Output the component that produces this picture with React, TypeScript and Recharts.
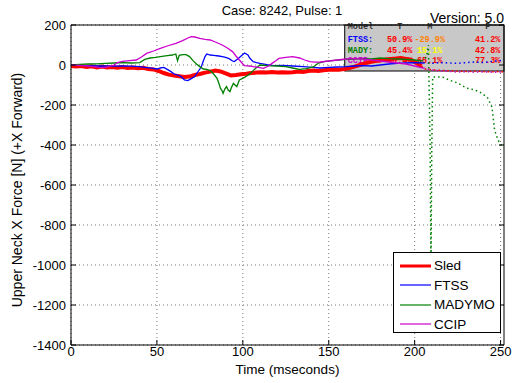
import React from "react";
import {
  LineChart,
  Line,
  XAxis,
  YAxis,
  CartesianGrid,
  ReferenceArea,
} from "recharts";

// time (ms) / force (N) pairs
const sledSolid: [number, number][] = [
  [0, -5], [3, -8], [6, -5], [9, -10], [12, -6], [15, -12], [18, -8], [21, -12],
  [24, -10], [27, -14], [30, -10], [33, -15], [36, -12], [39, -16], [42, -14],
  [45, -20], [48, -22], [51, -30], [54, -40], [57, -48], [60, -53], [63, -56],
  [66, -60], [69, -58], [72, -50], [75, -45], [78, -38], [81, -33], [84, -28],
  [87, -32], [90, -42], [93, -52], [96, -50], [99, -46], [102, -44], [105, -40],
  [108, -38], [111, -36], [114, -38], [117, -35], [120, -37], [123, -36],
  [126, -38], [129, -36], [132, -33], [135, -35], [138, -30], [141, -28],
  [144, -30], [147, -26], [150, -24], [153, -22], [156, -24], [159, -20],
  [162, -15], [165, -8], [168, 0], [171, 8], [174, 15], [177, 20], [180, 22],
  [183, 28], [186, 30], [189, 32], [192, 35], [195, 30], [198, 25], [201, 10],
  [204, -5],
];
const sledDotted: [number, number][] = [
  [204, -5], [206, -20], [212, -25], [218, -28], [224, -30], [230, -32],
  [236, -30], [242, -34], [248, -33], [252, -35],
];

const ftssSolid: [number, number][] = [
  [0, 0], [5, -2], [10, -3], [15, -5], [20, -4], [25, -6], [30, -5], [35, -6],
  [40, -8], [43, -12], [47, -16], [50, -20], [52, -15], [54, -12], [56, -22],
  [58, -32], [60, -45], [62, -50], [64, -58], [66, -75], [68, -78], [70, -68],
  [72, -58], [73, -45], [75, -20], [76, -5], [77, 20], [78, 42], [79, 55],
  [81, 50], [83, 48], [86, 45], [88, 42], [90, 38], [92, 32], [94, 20],
  [95, 17], [97, 30], [99, 45], [101, 60], [103, 50], [104, 35], [106, 17],
  [108, 12], [110, 8], [114, 2], [118, -3], [123, -2], [129, -5], [135, -8],
  [141, -12], [145, -15], [150, -12], [155, -10], [160, -8], [165, -5],
  [170, -3], [175, -5], [180, 0], [185, 5], [190, 8], [195, 10], [200, 12],
  [205, 10],
];
const ftssDotted: [number, number][] = [
  [205, 10], [210, 8], [215, 12], [220, 10], [225, 8], [230, 12], [235, 15],
  [240, 12], [245, 18], [250, 22], [252, 25],
];

const madySolid: [number, number][] = [
  [0, 0], [5, 3], [10, 5], [15, 6], [20, 8], [25, 10], [30, 12], [35, 10],
  [40, 12], [43, 28], [46, 35], [49, 38], [52, 42], [56, 47], [59, 50],
  [61, 55], [62, 22], [63, 48], [65, 52], [67, 52], [69, 42], [71, 22], [73, 5],
  [75, -8], [77, -20], [79, -22], [81, -28], [83, -45], [85, -67], [86, -90],
  [87, -117], [88, -130], [88.5, -142], [89.5, -120], [90.5, -108],
  [91.5, -125], [92.5, -133], [93.5, -110], [94.5, -92], [95.5, -100],
  [96.5, -108], [98, -75], [101, -62], [104, -45], [106, -28], [108, -12],
  [110, 0], [114, -3], [120, -5], [125, -8], [129, -15], [133, -22],
  [137, -18], [141, -10], [144, 10], [148, 18], [152, 22], [156, 25],
  [160, 28], [165, 30], [170, 32], [175, 30], [180, 35], [185, 32], [190, 30],
  [195, 28], [200, 25], [204, 20],
];
const madyDotted: [number, number][] = [
  [204, 20], [206, 30], [207, 45], [208, 100], [209, -400], [209.5, -1000],
  [210, -400], [210.5, -60], [214, -60], [217, -62], [220, -75], [225, -90],
  [230, -115], [235, -125], [239, -140], [242.5, -165], [245, -210],
  [246.5, -325], [248.5, -375], [250, -395], [252, -415],
];

const ccipSolid: [number, number][] = [
  [0, 0], [5, -2], [10, -5], [13, -8], [16, -12], [19, -13], [22, -8], [25, 0],
  [27, 12], [30, 18], [34, 22], [38, 25], [41, 40], [44, 58], [48, 70],
  [52, 83], [56, 95], [61, 108], [65, 122], [68, 135], [70, 142], [72, 140],
  [75, 133], [78, 128], [81, 125], [84, 115], [88, 100], [91, 85], [94, 67],
  [96, 45], [98, 25], [100, 5], [101, -3], [104, -5], [106, -8], [109, -12],
  [112, -17], [115, -5], [117, 8], [119, 20], [121, 33], [125, 38], [129, 42],
  [133, 35], [136, 25], [139, 17], [142, 14], [145, 15], [150, 20], [155, 25],
  [160, 30], [165, 32], [170, 30], [175, 25], [180, 20], [185, 15], [190, 10],
  [195, 5], [200, -5], [205, -15],
];
const ccipDotted: [number, number][] = [
  [205, -15], [210, -25], [215, -30], [220, -32], [225, -35], [230, -33],
  [235, -36], [240, -34], [245, -36], [250, -35], [252, -35],
];

const xTicks = [0, 50, 100, 150, 200, 250];
const yTicks = [200, 0, -200, -400, -600, -800, -1000, -1200, -1400];

const legendItems = [
  { name: "Sled", color: "#ff0000", width: 3 },
  { name: "FTSS", color: "#0000ff", width: 1.2 },
  { name: "MADYMO", color: "#008000", width: 1.2 },
  { name: "CCIP", color: "#cc00cc", width: 1.2 },
];

// correlation table shown in the top right corner
const tableHeader = ["Model", "T", "M", "P"];
const tableRows = [
  { label: "FTSS:", color: "#0000ff", values: ["50.9%", "-29.9%", "41.2%"], valueColors: ["#ff0000", "#ff8000", "#ff0000"] },
  { label: "MADY:", color: "#008000", values: ["45.4%", "15.1%", "42.8%"], valueColors: ["#ff0000", "#ffff00", "#ff0000"] },
  { label: "CCIP", color: "#cc00cc", values: ["46.4%", "65.1%", "77.3%"], valueColors: ["#ff0000", "#ff0000", "#ff0000"] },
];

const toPoints = (pairs: [number, number][]) => pairs.map(([t, v]) => ({ t, v }));

const FONT = "'Liberation Sans', Arial, sans-serif";
const MONO = "'Liberation Mono', 'Courier New', monospace";

const TableShape = (props: any) => {
  const { x, y, width, height } = props;
  const colX = [x + 55, x + 85, x + 143];
  return (
    <g>
      <rect x={x} y={y} width={width} height={height} fill="#c8c8c8" stroke="#000" strokeWidth={1} />
      <g fontFamily={MONO} fontWeight="bold" fontSize={8.5}>
        <text x={x + 3} y={y + 4} fill="#333">{tableHeader[0]}</text>
        {tableHeader.slice(1).map((h, i) => (
          <text key={h} x={colX[i]} y={y + 4} textAnchor="middle" fill="#333">{h}</text>
        ))}
        {tableRows.map((row, r) => (
          <g key={row.label}>
            <text x={x + 3} y={y + 17 + r * 10.5} fill={row.color}>{row.label}</text>
            {row.values.map((val, i) => (
              <text key={i} x={colX[i]} y={y + 17 + r * 10.5} textAnchor="middle" fill={row.valueColors[i]}>
                {val}
              </text>
            ))}
          </g>
        ))}
      </g>
    </g>
  );
};

const series = [
  { key: "sled", solid: sledSolid, dotted: sledDotted, color: "#ff0000", width: 4 },
  { key: "ftss", solid: ftssSolid, dotted: ftssDotted, color: "#0000ff", width: 1.3 },
  { key: "mady", solid: madySolid, dotted: madyDotted, color: "#008000", width: 1.3 },
  { key: "ccip", solid: ccipSolid, dotted: ccipDotted, color: "#cc00cc", width: 1.3 },
];

export default function App() {
  return (
    <div style={{ position: "absolute", left: 0, top: 0, width: 517, height: 383, background: "#fff", fontFamily: FONT }}>
      <LineChart width={517} height={383} margin={{ top: 0, right: 0, bottom: 0, left: 0 }}>
        <CartesianGrid stroke="#777" strokeDasharray="1 3" horizontalValues={yTicks} verticalValues={xTicks} />
        <XAxis
          xAxisId={0}
          dataKey="t"
          type="number"
          domain={[0, 252]}
          ticks={xTicks}
          height={38}
          tickSize={-5}
          tickMargin={7}
          stroke="#000"
          tick={{ fill: "#000", fontSize: 13, fontFamily: FONT }}
          allowDataOverflow
        />
        <XAxis
          xAxisId="top"
          orientation="top"
          type="number"
          domain={[0, 252]}
          ticks={xTicks}
          height={25}
          tickSize={-5}
          tickFormatter={() => ""}
          stroke="#000"
          allowDataOverflow
        />
        <YAxis
          yAxisId={0}
          type="number"
          domain={[-1400, 200]}
          ticks={yTicks}
          width={71}
          tickSize={-5}
          tickMargin={10}
          stroke="#000"
          tick={{ fill: "#000", fontSize: 13, fontFamily: FONT }}
          allowDataOverflow
        />
        <YAxis
          yAxisId="r"
          orientation="right"
          type="number"
          domain={[-1400, 200]}
          ticks={yTicks}
          width={13}
          tickSize={-5}
          tickFormatter={() => ""}
          stroke="#000"
          allowDataOverflow
        />
        <ReferenceArea x1={159.3} x2={252} y1={-30} y2={200} shape={TableShape} ifOverflow="visible" />
        {series.map((s) => (
          <Line
            key={s.key}
            data={toPoints(s.solid)}
            dataKey="v"
            type="linear"
            stroke={s.color}
            strokeWidth={s.width}
            dot={false}
            isAnimationActive={false}
          />
        ))}
        {series.map((s) => (
          <Line
            key={s.key + "-dot"}
            data={toPoints(s.dotted)}
            dataKey="v"
            type="linear"
            stroke={s.color}
            strokeWidth={1.5}
            strokeDasharray="1.5 3"
            dot={false}
            isAnimationActive={false}
          />
        ))}
      </LineChart>

      <div style={{ position: "absolute", left: 0, width: 564, top: 3, textAlign: "center", fontSize: 13, lineHeight: "16px" }}>
        Case: 8242, Pulse: 1
      </div>
      <div style={{ position: "absolute", left: 430, top: 10, fontSize: 14, lineHeight: "16px" }}>Version: 5.0</div>
      <div style={{ position: "absolute", left: 71, width: 433, top: 362, textAlign: "center", fontSize: 13.5, lineHeight: "16px" }}>
        Time (mseconds)
      </div>
      <div
        style={{
          position: "absolute",
          left: 17 - 160,
          top: 190 - 9,
          width: 320,
          textAlign: "center",
          fontSize: 14,
          lineHeight: "18px",
          transform: "rotate(-90deg)",
        }}
      >
        Upper Neck X Force [N] (+X Forward)
      </div>

      <div
        style={{
          position: "absolute",
          left: 393,
          top: 252,
          width: 108,
          height: 81,
          background: "#fff",
          border: "1px solid #000",
          boxSizing: "border-box",
          padding: "3px 0 0 6px",
        }}
      >
        {legendItems.map((item) => (
          <div key={item.name} style={{ display: "flex", alignItems: "center", height: 19.5, fontSize: 13.5 }}>
            <svg width={31} height={6} style={{ marginRight: 3 }}>
              <line x1={0} x2={31} y1={3} y2={3} stroke={item.color} strokeWidth={item.width} />
            </svg>
            <span>{item.name}</span>
          </div>
        ))}
      </div>
    </div>
  );
}
